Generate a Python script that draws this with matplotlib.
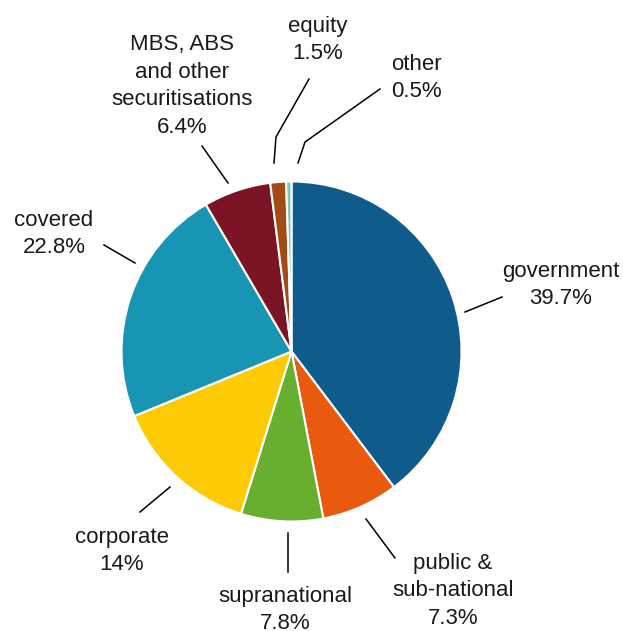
import matplotlib
matplotlib.use("Agg")
import matplotlib.pyplot as plt

# portfolio split by asset class, clockwise from 12 o'clock
categories = ["government", "public &\nsub-national", "supranational", "corporate",
              "covered", "MBS, ABS\nand other\nsecuritisations", "equity", "other"]
shares = [39.7, 7.3, 7.8, 14, 22.8, 6.4, 1.5, 0.5]
share_labels = ["39.7%", "7.3%", "7.8%", "14%", "22.8%", "6.4%", "1.5%", "0.5%"]
colors = ["#0f5c8c", "#e95a0f", "#68ae2f", "#fdcb05",
          "#1895b3", "#7b1526", "#a34b17", "#7cc4c0"]

W, H = 623, 631

# label anchor (x, y in pixels from top-left) and leader line points
label_pos = [(561, 285), (453, 591), (285, 610), (122, 551),
             (54, 234), (182, 86), (318, 40), (416, 78)]
leaders = [
    [(502, 297), (465, 312)],
    [(366, 519), (395, 558)],
    [(288, 533), (288, 572)],
    [(170, 487), (140, 512)],
    [(104, 245), (135, 263)],
    [(202, 146), (228, 183)],
    [(309, 79), (276, 137), (274, 163)],
    [(380, 89), (305, 142), (298, 163)],
]

plt.rcParams['font.family'] = ['Liberation Sans', 'DejaVu Sans']

fig = plt.figure(figsize=(W / 100, H / 100), dpi=100)
ax = fig.add_axes([0, 0, 1, 1])

ax.pie(shares, colors=colors, startangle=90, counterclock=False,
       center=(291.5, H - 351.5), radius=170, frame=True,
       wedgeprops=dict(edgecolor='white', linewidth=1.5))
ax.set_xlim(0, W)
ax.set_ylim(0, H)
ax.set_aspect('equal')
ax.axis('off')

for name, pct, (x, y), pts in zip(categories, share_labels, label_pos, leaders):
    ax.text(x, H - y, name + "\n" + pct, ha='center', va='center',
            fontsize=16, color='#1a1a1a', linespacing=1.42)
    xs = [p[0] for p in pts]
    ys = [H - p[1] for p in pts]
    ax.plot(xs, ys, color='black', linewidth=1.1)

fig.savefig("out.png", dpi=100, facecolor='white')
